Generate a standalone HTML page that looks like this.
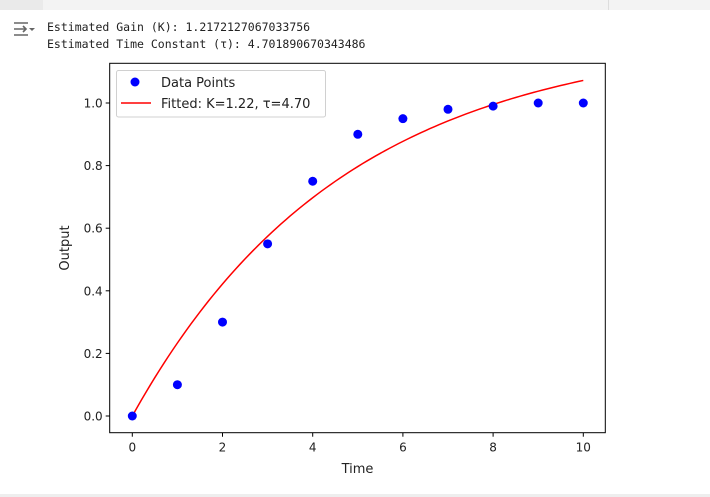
<!DOCTYPE html>
<html><head><meta charset="utf-8"><style>
body{margin:0;width:710px;height:497px;background:#fff;overflow:hidden;position:relative;font-family:"DejaVu Sans","Liberation Sans",sans-serif}
.mono{font-family:"DejaVu Sans Mono","Liberation Mono","Noto Sans CJK JP",monospace;font-size:11.5px;color:#222;position:absolute;left:47px;line-height:16px}
</style></head><body>
<div style="position:absolute;left:0;top:0;width:710px;height:10px;background:#f3f3f3"></div>
<div style="position:absolute;left:0;top:0;width:43px;height:10px;background:#eaeaea"></div>
<div style="position:absolute;left:0;top:494px;width:710px;height:3px;background:#eeeeee"></div>
<div style="position:absolute;left:608px;top:0;width:1px;height:10px;background:#ddd"></div>
<svg style="position:absolute;left:12px;top:20px" width="24" height="18" viewBox="0 0 24 18">
<path d="M2 3h14M2 9h12M2 15h14" stroke="#666" stroke-width="1.6" fill="none"/><path d="M11 6l3 3-3 3" stroke="#666" stroke-width="1.6" fill="none"/><path d="M17 8h6l-3 3z" fill="#666"/></svg>
<div class="mono" style="top:19px">Estimated Gain (K): 1.2172127067033756</div>
<div class="mono" style="top:36px">Estimated Time Constant (τ): 4.701890670343486</div>
<svg id="chart" style="position:absolute;left:0;top:0" width="710" height="497"></svg>
<script>
const times=[0,1,2,3,4,5,6,7,8,9,10];
const outputs=[0,0.1,0.3,0.55,0.75,0.9,0.95,0.98,0.99,1.0,1.0];
const K=1.2172127067033756, TAU=4.701890670343486;
const xTicks=[0,2,4,6,8,10];
const yTicks=[0,0.2,0.4,0.6,0.8,1.0];
const NS='http://www.w3.org/2000/svg';
const svg=document.getElementById('chart');
const L=109.7,R=605.3,T=63.3,B=432.7;
const xs=t=>132.3+t*(583.3-132.3)/10;
const ys=v=>416-v*(416-103);
function mk(tag,a,p){const e=document.createElementNS(NS,tag);for(const k in a)e.setAttribute(k,a[k]);(p||svg).appendChild(e);return e;}
const frame=mk('rect',{x:L,y:T,width:R-L,height:B-T,fill:'#fff',stroke:'#000','stroke-width':1});


xTicks.forEach(t=>{
 const l=mk('line',{x1:xs(t),x2:xs(t),y1:B,y2:B+4,stroke:'#000'});
 
 
 const tx=mk('text',{x:xs(t),y:B+19,'text-anchor':'middle','font-size':12,fill:'#222'});
 
 
 tx.textContent=t;
});
yTicks.forEach(v=>{
 const l=mk('line',{x1:L-4,x2:L,y1:ys(v),y2:ys(v),stroke:'#000'});
 
 
 const tx=mk('text',{x:L-7,y:ys(v)+4.5,'text-anchor':'end','font-size':12,fill:'#222'});
 
 
 tx.textContent=v.toFixed(1);
});
const xl=mk('text',{x:(L+R)/2,y:473,'text-anchor':'middle','font-size':13,fill:'#222'});


xl.textContent='Time';
const yl=mk('text',{x:0,y:0,'text-anchor':'middle','font-size':13,fill:'#222',transform:`translate(69,${(T+B)/2}) rotate(-90)`});


yl.textContent='Output';
let d='';
for(let i=0;i<=100;i++){const t=i/10;d+=(i?'L':'M')+xs(t).toFixed(2)+' '+ys(K*(1-Math.exp(-t/TAU))).toFixed(2);}
const fit=mk('path',{d:d,fill:'none',stroke:'#ff0000','stroke-width':1.5});


times.forEach((t,i)=>{
 const c=mk('circle',{cx:xs(t),cy:ys(outputs[i]),r:4.5,fill:'#0000ff'});
 
 
});
const g=mk('g',{});


mk('rect',{x:116.5,y:70.5,width:209,height:46.5,rx:2,fill:'#fff',stroke:'#d0d0d0'},g);
mk('circle',{cx:135,cy:82,r:4.5,fill:'#0000ff'},g);
mk('line',{x1:121,x2:151,y1:103,y2:103,stroke:'#ff0000','stroke-width':1.5},g);
const t1=mk('text',{x:161,y:87,'font-size':13,fill:'#222'},g);


t1.textContent='Data Points';
const t2=mk('text',{x:161,y:108,'font-size':13,fill:'#222'},g);


t2.textContent='Fitted: K=1.22, τ=4.70';
</script>
</body></html>
